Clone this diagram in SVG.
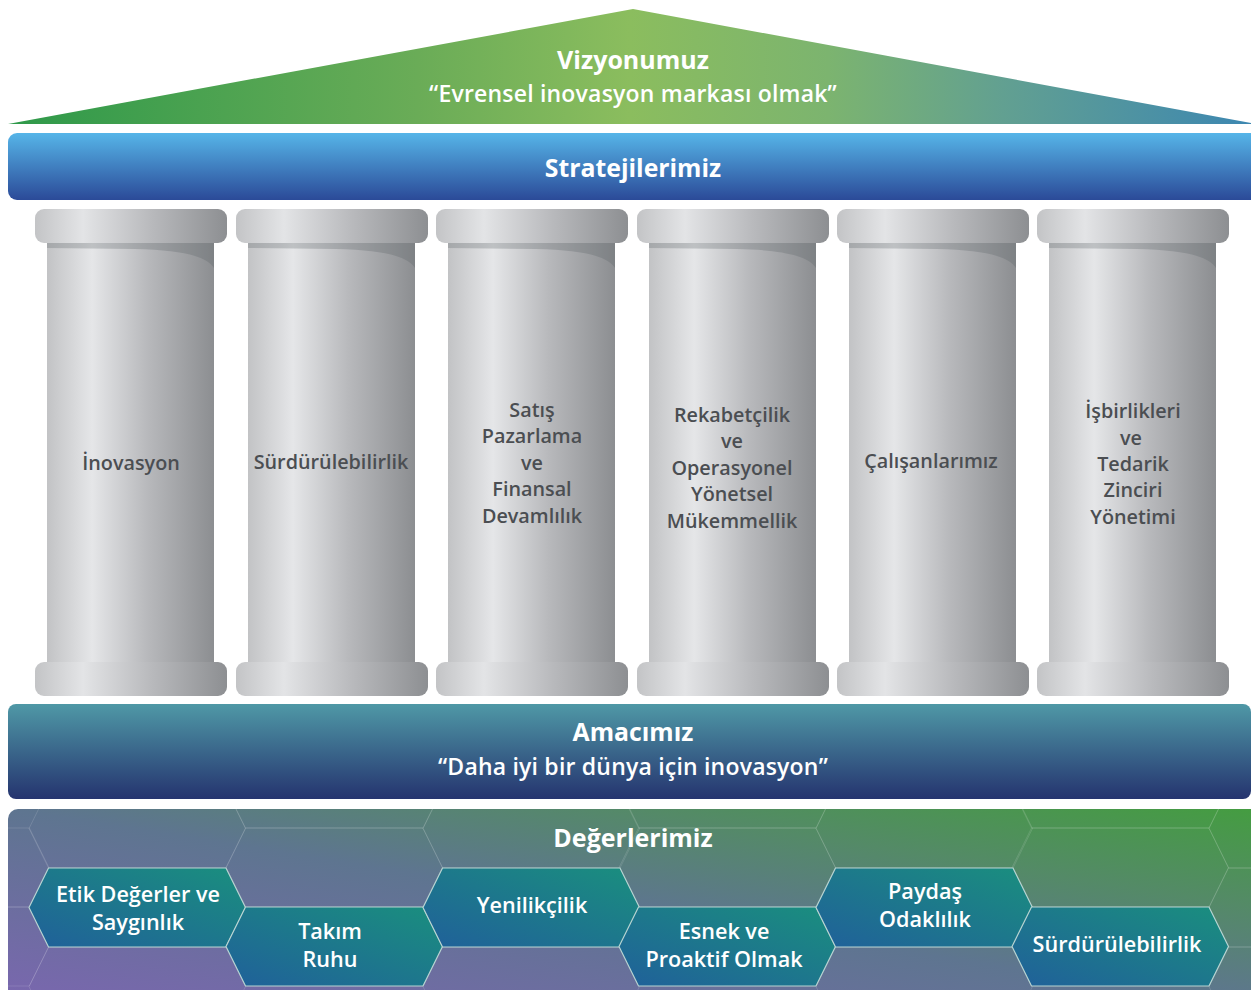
<svg xmlns="http://www.w3.org/2000/svg" xmlns:xlink="http://www.w3.org/1999/xlink" width="1251" height="990" viewBox="0 0 1251 990">
<style>
.title{font-family:"Open Sans","Noto Sans","Liberation Sans",sans-serif;font-weight:700;fill:#ffffff;text-anchor:middle}
.sub{font-family:"Open Sans","Noto Sans","Liberation Sans",sans-serif;font-weight:600;fill:#ffffff;text-anchor:middle}
.pt{font-family:"Open Sans","Noto Sans","Liberation Sans",sans-serif;font-weight:600;font-size:19.8px;fill:#4b4e52;text-anchor:middle}
.ht{font-family:"Open Sans","Noto Sans","Liberation Sans",sans-serif;font-weight:600;font-size:21.6px;fill:#ffffff;text-anchor:middle}
.hex{fill:url(#hexG);stroke:#b8d4d2;stroke-width:1.2}
.grid{fill:none;stroke:#ffffff;stroke-opacity:0.13;stroke-width:1}
</style>
<defs>
<linearGradient id="roofG" gradientUnits="userSpaceOnUse" x1="8" y1="0" x2="1251" y2="0">
<stop offset="0" stop-color="#2e994a"/>
<stop offset="0.33" stop-color="#6aac57"/>
<stop offset="0.5" stop-color="#8bbd5e"/>
<stop offset="0.66" stop-color="#7cb46f"/>
<stop offset="0.8" stop-color="#62a091"/>
<stop offset="1" stop-color="#3d87b1"/>
</linearGradient>
<linearGradient id="stratG" x1="0" y1="0" x2="0" y2="1">
<stop offset="0" stop-color="#56b5e8"/>
<stop offset="1" stop-color="#2b4a98"/>
</linearGradient>
<linearGradient id="amacG" x1="0" y1="0" x2="0" y2="1">
<stop offset="0" stop-color="#4f98a6"/>
<stop offset="1" stop-color="#25346f"/>
</linearGradient>
<linearGradient id="valG" x1="0" y1="1" x2="1" y2="0">
<stop offset="0" stop-color="#7b66b0"/>
<stop offset="0.5" stop-color="#5e7590"/>
<stop offset="0.75" stop-color="#548a67"/>
<stop offset="1" stop-color="#449d40"/>
</linearGradient>
<linearGradient id="hexG" x1="0" y1="1" x2="1" y2="0">
<stop offset="0" stop-color="#20609a"/>
<stop offset="1" stop-color="#1a8f7e"/>
</linearGradient>
<linearGradient id="capG" x1="0" y1="0" x2="1" y2="0">
<stop offset="0" stop-color="#c3c4c6"/>
<stop offset="0.25" stop-color="#e3e4e6"/>
<stop offset="0.6" stop-color="#b9babd"/>
<stop offset="1" stop-color="#8d8f92"/>
</linearGradient>
<linearGradient id="shaftG" x1="0" y1="0" x2="1" y2="0">
<stop offset="0" stop-color="#c2c3c5"/>
<stop offset="0.27" stop-color="#e5e6e8"/>
<stop offset="0.6" stop-color="#b8b9bc"/>
<stop offset="1" stop-color="#8c8e91"/>
</linearGradient>
<clipPath id="valClip"><rect x="8" y="809" width="1260" height="200" rx="10"/></clipPath>
<g id="pillar">
<rect x="12" y="240" width="167" height="426" fill="url(#shaftG)"/>
<path d="M12,243 H179 V268 C172,257 150,250 100,249 L12,248 Z" fill="#5b6166" fill-opacity="0.28"/>
<rect x="0" y="209" width="192" height="34" rx="9" fill="url(#capG)"/>
<rect x="0" y="662" width="192" height="34" rx="9" fill="url(#capG)"/>
</g>
<path id="hx" d="M0,0 L19.5,-39.5 L197,-39.5 L216.5,0 L197,39.5 L19.5,39.5 Z"/>
</defs>

<g id="roof">
<polygon points="8,124 633,9 1251,123 1251,124" fill="url(#roofG)"/>
<text class="title" x="633" y="69" font-size="25">Vizyonumuz</text>
<text class="sub" x="633" y="102" font-size="23" letter-spacing="0.2">“Evrensel inovasyon markası olmak”</text>
</g>

<g id="strategies">
<rect x="8" y="133" width="1260" height="67" rx="9" fill="url(#stratG)"/>
<text class="title" x="633" y="177" font-size="24.8">Stratejilerimiz</text>
</g>

<g id="pillar1">
<use xlink:href="#pillar" transform="translate(35,0)"/>
<text class="pt" x="131" y="470">İnovasyon</text>
</g>
<g id="pillar2">
<use xlink:href="#pillar" transform="translate(236,0)"/>
<text class="pt" x="331" y="469">Sürdürülebilirlik</text>
</g>
<g id="pillar3">
<use xlink:href="#pillar" transform="translate(436,0)"/>
<text class="pt" x="532" y="417">Satış</text>
<text class="pt" x="532" y="443">Pazarlama</text>
<text class="pt" x="532" y="470">ve</text>
<text class="pt" x="532" y="496">Finansal</text>
<text class="pt" x="532" y="523">Devamlılık</text>
</g>
<g id="pillar4">
<use xlink:href="#pillar" transform="translate(637,0)"/>
<text class="pt" x="732" y="422">Rekabetçilik</text>
<text class="pt" x="732" y="448">ve</text>
<text class="pt" x="732" y="475">Operasyonel</text>
<text class="pt" x="732" y="501">Yönetsel</text>
<text class="pt" x="732" y="528">Mükemmellik</text>
</g>
<g id="pillar5">
<use xlink:href="#pillar" transform="translate(837,0)"/>
<text class="pt" x="931" y="468">Çalışanlarımız</text>
</g>
<g id="pillar6">
<use xlink:href="#pillar" transform="translate(1037,0)"/>
<text class="pt" x="1133" y="418">İşbirlikleri</text>
<text class="pt" x="1131" y="445">ve</text>
<text class="pt" x="1133" y="471">Tedarik</text>
<text class="pt" x="1133" y="497">Zinciri</text>
<text class="pt" x="1133" y="524">Yönetimi</text>
</g>

<g id="purpose">
<rect x="8" y="704" width="1243" height="95" rx="8" fill="url(#amacG)"/>
<text class="title" x="633" y="741" font-size="24.8">Amacımız</text>
<text class="sub" x="633" y="775" font-size="23" letter-spacing="0.2">“Daha iyi bir dünya için inovasyon”</text>
</g>

<g id="values">
<rect x="8" y="809" width="1260" height="200" rx="10" fill="url(#valG)"/>
<g clip-path="url(#valClip)" class="grid">
<use xlink:href="#hx" transform="translate(-167.6,867.5)"/>
<use xlink:href="#hx" transform="translate(-167.6,946.5)"/>
<use xlink:href="#hx" transform="translate(29,828.5)"/>
<use xlink:href="#hx" transform="translate(29,986.5)"/>
<use xlink:href="#hx" transform="translate(226,867.5)"/>
<use xlink:href="#hx" transform="translate(226,788.5)"/>
<use xlink:href="#hx" transform="translate(423,828.5)"/>
<use xlink:href="#hx" transform="translate(423,986.5)"/>
<use xlink:href="#hx" transform="translate(619,867.5)"/>
<use xlink:href="#hx" transform="translate(619,788.5)"/>
<use xlink:href="#hx" transform="translate(816,828.5)"/>
<use xlink:href="#hx" transform="translate(816,986.5)"/>
<use xlink:href="#hx" transform="translate(1012,867.5)"/>
<use xlink:href="#hx" transform="translate(1012,788.5)"/>
<use xlink:href="#hx" transform="translate(1209,828.5)"/>
<use xlink:href="#hx" transform="translate(1209,907.5)"/>
<use xlink:href="#hx" transform="translate(1209,986.5)"/>
</g>
<text class="title" x="633" y="847" font-size="25">Değerlerimiz</text>
</g>

<g id="value1">
<use xlink:href="#hx" class="hex" transform="translate(29,907.5)"/>
<text class="ht" x="138" y="902">Etik Değerler ve</text>
<text class="ht" x="138" y="930">Saygınlık</text>
</g>
<g id="value2">
<use xlink:href="#hx" class="hex" transform="translate(226,946.5)"/>
<text class="ht" x="330" y="939">Takım</text>
<text class="ht" x="330" y="967">Ruhu</text>
</g>
<g id="value3">
<use xlink:href="#hx" class="hex" transform="translate(423,907.5)"/>
<text class="ht" x="532" y="913">Yenilikçilik</text>
</g>
<g id="value4">
<use xlink:href="#hx" class="hex" transform="translate(619,946.5)"/>
<text class="ht" x="724" y="939">Esnek ve</text>
<text class="ht" x="724" y="967">Proaktif Olmak</text>
</g>
<g id="value5">
<use xlink:href="#hx" class="hex" transform="translate(816,907.5)"/>
<text class="ht" x="925" y="899">Paydaş</text>
<text class="ht" x="925" y="927">Odaklılık</text>
</g>
<g id="value6">
<use xlink:href="#hx" class="hex" transform="translate(1012,946.5)"/>
<text class="ht" x="1117" y="952">Sürdürülebilirlik</text>
</g>
</svg>
